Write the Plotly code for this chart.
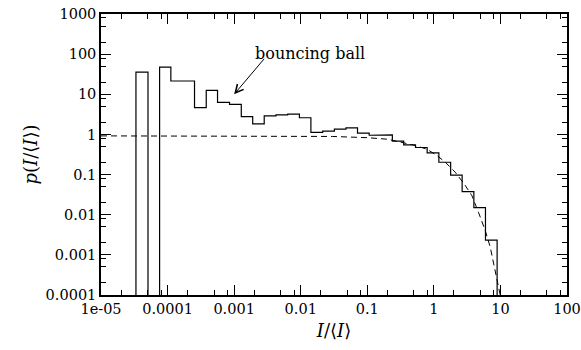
import plotly.graph_objects as go

# Histogram bin edges (I/<I>) and heights p(I/<I>)
bin_edges = [3.35e-5, 5.08e-5, 7.59e-5, 1.12e-4, 1.69e-4, 2.54e-4, 3.81e-4, 5.63e-4,
             8.53e-4, 1.28e-3, 1.90e-3, 2.83e-3, 4.25e-3, 6.38e-3, 9.56e-3, 0.01422,
             0.02138, 0.03206, 0.04786, 0.0713, 0.1069, 0.160, 0.238, 0.352, 0.530,
             0.793, 1.189, 1.787, 2.66, 3.99, 5.96, 8.92]
bin_heights = [35.8, 0, 47.7, 21.4, 21.4, 4.65, 12.5, 6.30, 5.62, 2.78, 1.83, 2.91,
               3.07, 3.21, 2.60, 1.13, 1.21, 1.35, 1.46, 1.08, 0.955, 0.977, 0.678,
               0.552, 0.473, 0.349, 0.203, 0.097, 0.0376, 0.0151, 0.00232]

# Dashed reference curve
theory_x = [1e-5, 1e-4, 1e-3, 0.01, 0.03, 0.1, 0.2, 0.31, 0.52, 0.785, 1.11, 1.48,
            2.09, 2.95, 3.72, 4.68, 5.89, 7.0, 8.13, 9.33, 10.2]
theory_y = [0.92, 0.92, 0.92, 0.91, 0.89, 0.83, 0.76, 0.65, 0.53, 0.43, 0.30, 0.204,
            0.115, 0.054, 0.030, 0.0115, 0.0041, 0.0016, 0.0005, 0.00018, 0.00008]

x_tickvals = [1e-5, 1e-4, 1e-3, 1e-2, 1e-1, 1, 10, 100]
x_ticktext = ["1e-05", "0.0001", "0.001", "0.01", "0.1", "1", "10", "100"]
y_tickvals = [1e-4, 1e-3, 1e-2, 1e-1, 1, 10, 100, 1000]
y_ticktext = ["0.0001", "0.001", "0.01", "0.1", "1", "10", "100", "1000"]
minor_mult = [2, 5, 8]

annotation_text = "bouncing ball"

# build step outline of the histogram
floor = 1e-9
hx = [bin_edges[0]]
hy = [floor]
for i, h in enumerate(bin_heights):
    v = h if h > 0 else floor
    hx += [bin_edges[i], bin_edges[i + 1]]
    hy += [v, v]
hx.append(bin_edges[-1])
hy.append(floor)

x_minor = [m * d for d in x_tickvals[:-1] for m in minor_mult]
y_minor = [m * d for d in y_tickvals[:-1] for m in minor_mult]

FONT = "DejaVu Serif"

fig = go.Figure()
fig.add_trace(go.Scatter(x=theory_x, y=theory_y, mode="lines",
                         line=dict(color="black", width=1, dash="6px,4px"),
                         showlegend=False, hoverinfo="skip"))
fig.add_trace(go.Scatter(x=hx, y=hy, mode="lines",
                         line=dict(color="black", width=1.2),
                         showlegend=False, hoverinfo="skip"))


def axis(tv, tt, minor_vals, rng, title, standoff):
    return dict(type="log", range=rng, showgrid=False, zeroline=False,
                automargin=False,
                showline=True, linecolor="black", linewidth=1.5, mirror="ticks",
                ticks="inside", ticklen=10, tickwidth=1.2, tickcolor="black",
                tickmode="array", tickvals=tv, ticktext=tt,
                tickfont=dict(family=FONT, size=14.5, color="black"),
                minor=dict(ticks="inside", ticklen=5, tickwidth=1, tickcolor="black",
                           tickmode="array", tickvals=minor_vals, showgrid=False),
                title=dict(text=title, standoff=standoff,
                           font=dict(family=FONT, size=18, color="black")))


fig.update_layout(
    width=581, height=350,
    margin=dict(l=101, r=14, t=14, b=55),
    paper_bgcolor="white", plot_bgcolor="white",
    font=dict(family=FONT, color="black"),
    xaxis=axis(x_tickvals, x_ticktext, x_minor, [-5, 2], "<i>I</i>/⟨<i>I</i>⟩", 8),
    yaxis=axis(y_tickvals, y_ticktext, y_minor, [-4, 3], "<i>p</i>(<i>I</i>/⟨<i>I</i>⟩)", 3),
)

# arrow (log coordinates for annotations on log axes)
fig.add_annotation(x=-3.0, y=1.0, ax=-2.53, ay=1.92, xref="x", yref="y",
                   axref="x", ayref="y", text="", showarrow=True,
                   arrowhead=5, arrowsize=1.6, arrowwidth=1, arrowcolor="black")
fig.add_annotation(x=-1.86, y=2.02, xref="x", yref="y", text=annotation_text,
                   showarrow=False, font=dict(family=FONT, size=16, color="black"))

fig.write_html("out.html", config={"displayModeBar": False},
               post_script="document.body.style.margin='0';document.body.style.padding='0';")
